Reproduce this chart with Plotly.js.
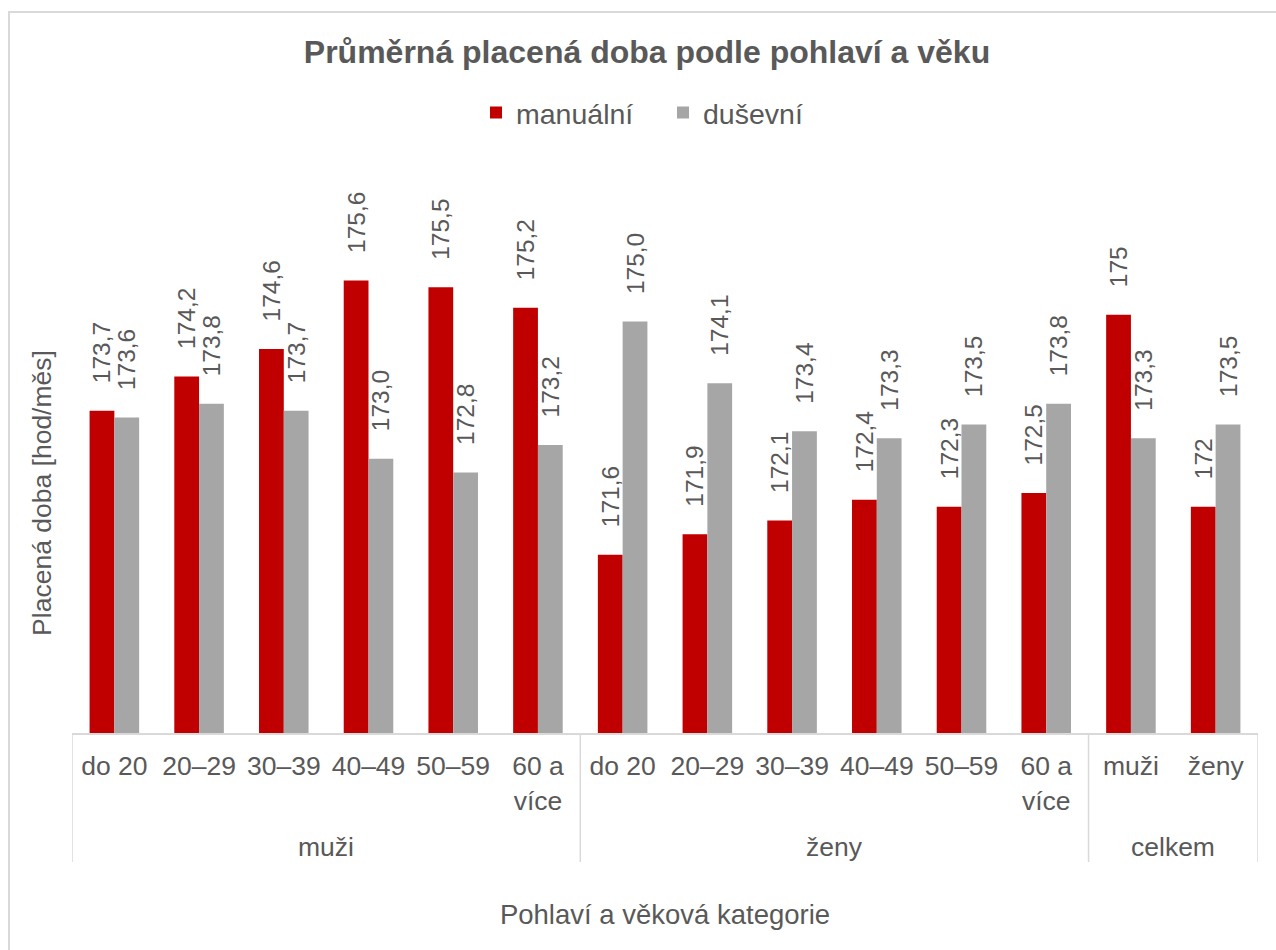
<!DOCTYPE html>
<html><head><meta charset="utf-8">
<script src="https://cdn.plot.ly/plotly-3.0.1.min.js"></script>
<style>
html,body{margin:0;padding:0;background:#fff;overflow:hidden;}
#chart{width:1276px;height:950px;}
#frame{position:absolute;left:8px;top:11px;width:1400px;height:1100px;border-left:2px solid #d9d9d9;border-top:2px solid #d9d9d9;pointer-events:none;}
</style>
</head><body>
<div id="chart"></div><div id="frame"></div>
<script>
const groups = ["muži","muži","muži","muži","muži","muži","ženy","ženy","ženy","ženy","ženy","ženy","celkem","celkem"];
const categories = ["do 20","20–29","30–39","40–49","50–59","60 a<br>více","do 20","20–29","30–39","40–49","50–59","60 a<br>více","muži","ženy"];
const manualni = [173.7,174.2,174.6,175.6,175.5,175.2,171.6,171.9,172.1,172.4,172.3,172.5,175.1,172.3];
const manualniLabels = ["173,7","174,2","174,6","175,6","175,5","175,2","171,6","171,9","172,1","172,4","172,3","172,5","175","172"];
const dusevni = [173.6,173.8,173.7,173.0,172.8,173.2,175.0,174.1,173.4,173.3,173.5,173.8,173.3,173.5];
const dusevniLabels = ["173,6","173,8","173,7","173,0","172,8","173,2","175,0","174,1","173,4","173,3","173,5","173,8","173,3","173,5"];

const FONT = "Liberation Sans, Arial, sans-serif";
const TXT = "#595959";
const GRID = "#d9d9d9";
const pad = "\u2002\u2002";

const xIdx = categories.map((_, i) => i);

function barTrace(name, vals, labels, color){
  return {
    type: "bar", name: name,
    x: xIdx, y: vals,
    text: labels.map(s => pad + s),
    textposition: "outside", textangle: -90,
    constraintext: "none", cliponaxis: false,
    textfont: {family: FONT, size: 24.5, color: TXT},
    marker: {color: color},
    hoverinfo: "y+name"
  };
}

const data = [
  barTrace("manuální", manualni, manualniLabels, "#c00000"),
  barTrace("duševní", dusevni, dusevniLabels, "#a6a6a6")
];

// group spans derived from the groups array
const spans = [];
groups.forEach((g, i) => {
  if (!spans.length || spans[spans.length - 1].name !== g) spans.push({name: g, start: i, end: i});
  else spans[spans.length - 1].end = i;
});

const plotH = 950 - 253 - 217;
const divBottom = -(862 - 733) / plotH;
const groupY = -(847 - 733) / plotH;

const shapes = [];
const bounds = [spans[0].start - 0.5].concat(spans.map(s => s.end + 0.5));
bounds.forEach(b => shapes.push({type: "line", xref: "x", yref: "paper", x0: b, x1: b, y0: 0, y1: divBottom,
  line: {color: GRID, width: 1.5}}));

const annotations = spans.map(s => ({
  xref: "x", yref: "paper", x: (s.start + s.end) / 2, y: groupY,
  text: s.name, showarrow: false, xanchor: "center", yanchor: "middle",
  font: {family: FONT, size: 26.5, color: TXT}
}));

const layout = {
  width: 1276, height: 950,
  margin: {l: 72, r: 18, t: 253, b: 217},
  paper_bgcolor: "rgba(0,0,0,0)", plot_bgcolor: "rgba(0,0,0,0)",
  barmode: "group", bargap: 0.415, bargroupgap: 0,
  font: {family: FONT, color: TXT, size: 26},
  title: {text: "<b>Průměrná placená doba podle pohlaví a věku</b>",
          font: {family: FONT, size: 32, color: TXT},
          x: 647/1276, xanchor: "center", y: 1 - 52/950, yanchor: "middle", xref: "container", yref: "container"},
  showlegend: true,
  legend: {orientation: "h", x: (476 - 72) / 1186, xanchor: "left", y: (733 - 113) / plotH, yanchor: "middle",
           entrywidth: 142, entrywidthmode: "pixels",
           font: {family: FONT, size: 28.5, color: TXT}, traceorder: "normal"},
  xaxis: {
    range: [-0.5, categories.length - 0.5],
    tickmode: "array", tickvals: xIdx, ticktext: categories,
    showline: true, linecolor: GRID, linewidth: 1.5,
    ticks: "outside", ticklen: 9, tickcolor: "rgba(0,0,0,0)",
    showgrid: false, zeroline: false, tickangle: 0,
    tickfont: {family: FONT, size: 26.5, color: TXT},
    title: {text: "Pohlaví a věková kategorie", font: {family: FONT, size: 27.5, color: TXT}, standoff: 90},
    automargin: false
  },
  yaxis: {
    range: [169, 176], showticklabels: false, showgrid: false, zeroline: false, showline: false, ticks: "",
    title: {text: "Placená doba [hod/měs]", font: {family: FONT, size: 26.5, color: TXT}, standoff: 11},
    automargin: false
  },
  shapes: shapes,
  annotations: annotations
};

Plotly.newPlot("chart", data, layout, {displayModeBar: false, staticPlot: true});
</script>
</body></html>
